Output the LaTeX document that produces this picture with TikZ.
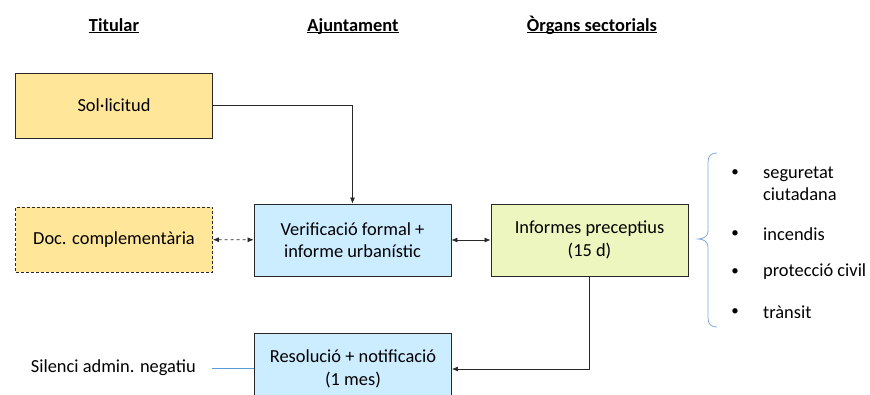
\documentclass[tikz,border=0pt]{standalone}
\usepackage{fontspec}
\setmainfont{Carlito}
\definecolor{GoldFill}{RGB}{255, 230, 153}
\definecolor{SkyFill}{RGB}{204, 236, 255}
\definecolor{LimeFill}{RGB}{236, 246, 190}
\definecolor{EdgeGray}{RGB}{40, 40, 40}
\definecolor{OfficeBlue}{RGB}{91, 155, 213}
\usepackage{tikz}
\usetikzlibrary{arrows.meta, positioning, calc}

\newcommand{\titol}[1]{\underline{\smash{\textbf{#1}}}}

\begin{document}
\begin{tikzpicture}[x=1pt, y=-1pt,
        every node/.style={font=\fontsize{18.4}{22.4}\selectfont},
        pas/.style={draw=EdgeGray, line width=0.8pt, minimum width=197pt, minimum height=72pt, align=center, inner sep=0pt},
        tramit/.style={pas, minimum height=65pt, fill=GoldFill},
        fletxa/.style={-{Latex[length=6pt, width=5pt]}, line width=0.7pt, color=EdgeGray},
        doble/.style={{Latex[length=6pt, width=5pt]}-{Latex[length=6pt, width=5pt]}, line width=0.7pt, color=EdgeGray}]
        \useasboundingbox (0,0) rectangle (870,394);

        % Column titles
        \node[anchor=base] (titular) at (114, 31) {\titol{Titular}};
        \node[anchor=base] (ajuntament) at (353, 31) {\titol{Ajuntament}};
        \node[anchor=base] (organs) at (592, 31) {\titol{Òrgans sectorials}};

        % Steps
        \node[tramit] (sollicitud) at (114, 105.5) {Sol·licitud};
        \node[tramit, dashed, dash pattern=on 3pt off 2pt] (doc) at (114, 239.5) {Doc. complementària};
        \node[pas, fill=SkyFill] (verif) at (352.5, 240) {Verificació formal +\\informe urbanístic};
        \node[pas, fill=LimeFill] (informes) at (589.5, 240) {Informes preceptius\\(15 d)};
        \node[pas, fill=SkyFill] (resolucio) at (353, 369) {Resolució + notificació\\(1 mes)};
        \node[anchor=east, inner xsep=16pt] (silenci) at (212, 368) {Silenci admin. negatiu};

        % Connectors
        \draw[fletxa] (sollicitud.east) -| (verif.north);
        \draw[doble, dash pattern=on 3pt off 3pt] (doc) -- (verif);
        \draw[doble] (verif) -- (informes);
        \draw[fletxa] (informes.south) |- (resolucio.east);
        \draw[OfficeBlue, line width=0.8pt] (silenci) -- (resolucio);

        % Sector list
        \draw[OfficeBlue!80, line width=0.8pt] (717, 153) .. controls (711, 153) and (708, 156) .. (708, 162)
            -- (708, 231) .. controls (708, 236) and (704, 239) .. (698, 239)
            .. controls (704, 239) and (708, 242) .. (708, 247)
            -- (708, 318) .. controls (708, 324) and (711, 327) .. (717, 327);
        \foreach \yb/\yt/\nom/\txt in {173/184/seg/{seguretat\\ciutadana}, 234/234/inc/incendis, 272/272/prot/protecció civil, 312/312/tran/trànsit} {
            \node[font=\fontsize{15}{17}\selectfont] (punt-\nom) at (735, \yb) {•};
            \node[anchor=west, align=left, inner xsep=0pt] (item-\nom) at (763, \yt) {\txt};
        }
\end{tikzpicture}
\end{document}
